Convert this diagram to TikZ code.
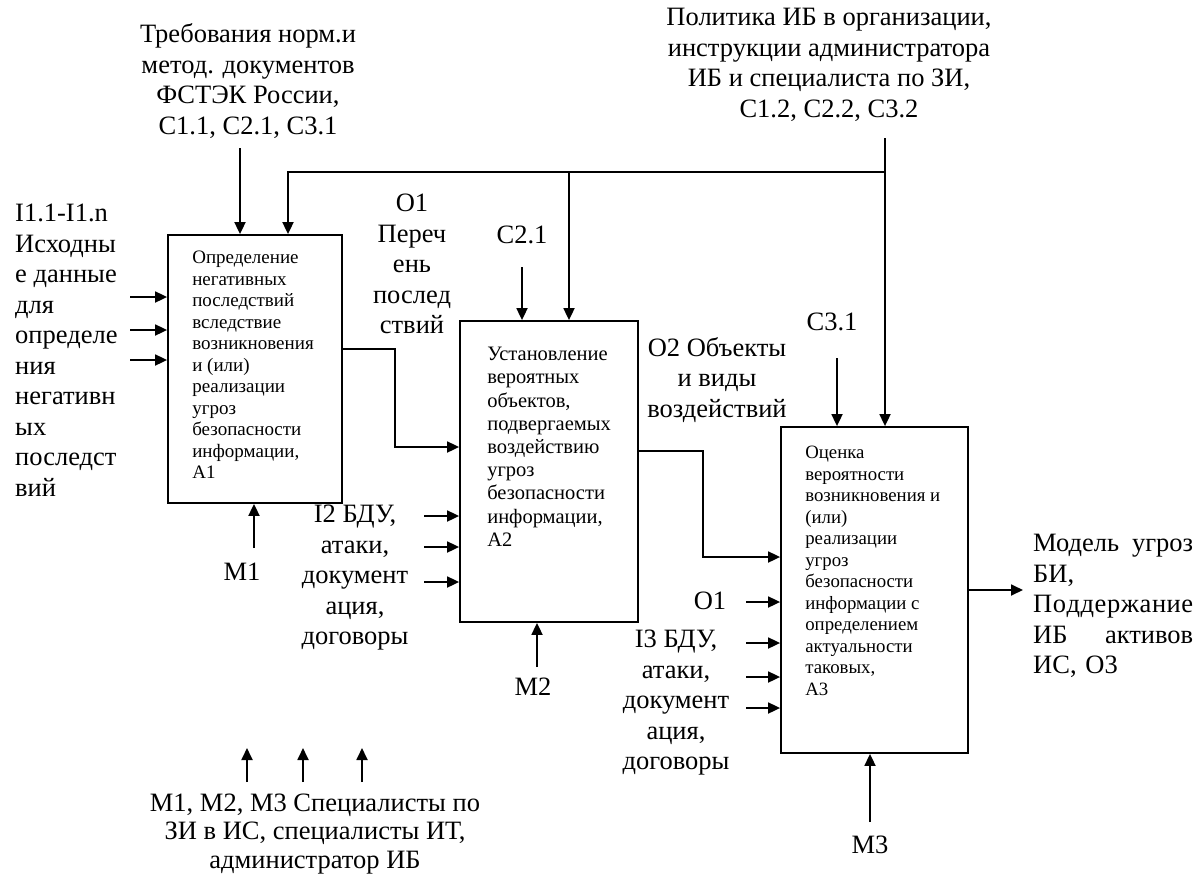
\documentclass[tikz,border=0pt]{standalone}
\usepackage{fontspec}
\setmainfont{Liberation Serif}
\usetikzlibrary{positioning,arrows.meta}

\tikzset{
  box/.style={draw,line width=1.8pt,inner sep=0pt},
  boxtxt/.style={align=left,inner sep=0pt},
  lbl/.style={align=center,inner sep=0pt,font=\fontsize{26.5}{30.5}\selectfont},
  wire/.style={line width=1.8pt},
  flow/.style={wire,-{Triangle[length=12pt,width=11pt]}},
}

\begin{document}
\begin{tikzpicture}[x=1pt,y=-1pt]
\useasboundingbox (0,0) rectangle (1199,881);

% blocks
\node[box,minimum width=174pt,minimum height=268pt] (A1) at (255,369) {};
\node[box,minimum width=178pt,minimum height=301pt] (A2) at (549,471.5) {};
\node[box,minimum width=187pt,minimum height=326pt] (A3) at (874.5,590) {};

\node[boxtxt,font=\fontsize{19}{21.5}\selectfont,below right=17pt and 25pt of A1.north west] (A1txt)
  {Определение\\негативных\\последствий\\вследствие\\возникновения\\и (или)\\реализации\\угроз\\безопасности\\информации,\\А1};
\node[boxtxt,font=\fontsize{20.5}{23.2}\selectfont,below right=27pt and 28pt of A2.north west] (A2txt)
  {Установление\\вероятных\\объектов,\\подвергаемых\\воздействию\\угроз\\безопасности\\информации,\\А2};
\node[boxtxt,font=\fontsize{18.8}{21.5}\selectfont,below right=20pt and 25pt of A3.north west] (A3txt)
  {Оценка\\вероятности\\возникновения и\\(или)\\реализации\\угроз\\безопасности\\информации с\\определением\\актуальности\\таковых,\\А3};

% labels
\node[lbl] (norm) at (248,81) {Требования норм.и\\метод. документов\\ФСТЭК России,\\С1.1, С2.1, С3.1};
\node[lbl] (policy) at (829,65) {Политика ИБ в организации,\\инструкции администратора\\ИБ и специалиста по ЗИ,\\С1.2, С2.2, С3.2};
\node[lbl,align=left,anchor=west] (I1) at (15,350)
  {I1.1-I1.n\\Исходны\\е данные\\для\\определе\\ния\\негативн\\ых\\последст\\вий};
\node[lbl] (O1) at (412,264) {O1\\Переч\\ень\\послед\\ствий};
\node[lbl] (C21) at (522,235) {С2.1};
\node[lbl] (C31) at (832,322) {С3.1};
\node[lbl] (O2) at (717,380) {O2 Объекты\\и виды\\воздействий};
\node[lbl] (I2) at (355,578) {I2 БДУ,\\атаки,\\документ\\ация,\\договоры};
\node[lbl] (O1b) at (710,601) {O1};
\node[lbl] (I3) at (676,703) {I3 БДУ,\\атаки,\\документ\\ация,\\договоры};
\node[lbl] (M1) at (242,572) {М1};
\node[lbl] (M2) at (533,687) {М2};
\node[lbl] (M3) at (870,845) {М3};
\node[lbl,align=left,anchor=west,text width=160pt] (res) at (1033,606)
  {Модель\hfill угроз\\БИ,\\П\hfill о\hfill д\hfill д\hfill е\hfill р\hfill ж\hfill а\hfill н\hfill и\hfill е\\ИБ\hfill активов\\ИС, О3};
\node[lbl,font=\fontsize{26.5}{28.5}\selectfont] (staff) at (315,834)
  {М1, М2, М3 Специалисты по\\ЗИ в ИС, специалисты ИТ,\\администратор ИБ};

% free ends
\coordinate (nrm) at (240,148);
\coordinate (pol) at (885,138);
\coordinate (busL) at (288,172);
\coordinate (busM) at (569,172);
\coordinate (busR) at (885,172);
\coordinate (c21) at (522,267);
\coordinate (c31) at (837,358);
\coordinate (m1) at (254,548);
\coordinate (m2) at (537,667);
\coordinate (m3) at (870,822);
\coordinate (out) at (1023,590);

% controls
\draw[flow] (nrm) -- (nrm |- A1.north);
\draw[flow] (pol) -- (pol |- A3.north);
\draw[flow] (busR) -- (busL) -- (busL |- A1.north);
\draw[flow] (busM) -- (busM |- A2.north);
\draw[flow] (c21) -- (c21 |- A2.north);
\draw[flow] (c31) -- (c31 |- A3.north);

% inputs
\foreach \y in {297,330,360}{
  \coordinate (in) at (130,\y);
  \draw[flow] (in) -- (in -| A1.west);
}
\foreach \y in {516,547,582}{
  \coordinate (in) at (424,\y);
  \draw[flow] (in) -- (in -| A2.west);
}
\foreach \y in {602,643,677,708}{
  \coordinate (in) at (746,\y);
  \draw[flow] (in) -- (in -| A3.west);
}

% outputs
\draw[flow] ([yshift=20pt]A1.east) -- ++(52,0) |- ([yshift=24.5pt]A2.west);
\draw[flow] ([yshift=20.5pt]A2.east) -- ++(64,0) |- ([yshift=33pt]A3.west);
\draw[flow] (A3.east) -- (out);

% mechanisms
\draw[flow] (m1) -- (m1 |- A1.south);
\draw[flow] (m2) -- (m2 |- A2.south);
\draw[flow] (m3) -- (m3 |- A3.south);
\foreach \x in {247,303,362}{
  \coordinate (mm) at (\x,782);
  \draw[flow] (mm) -- ++(0,-34);
}
\end{tikzpicture}
\end{document}
